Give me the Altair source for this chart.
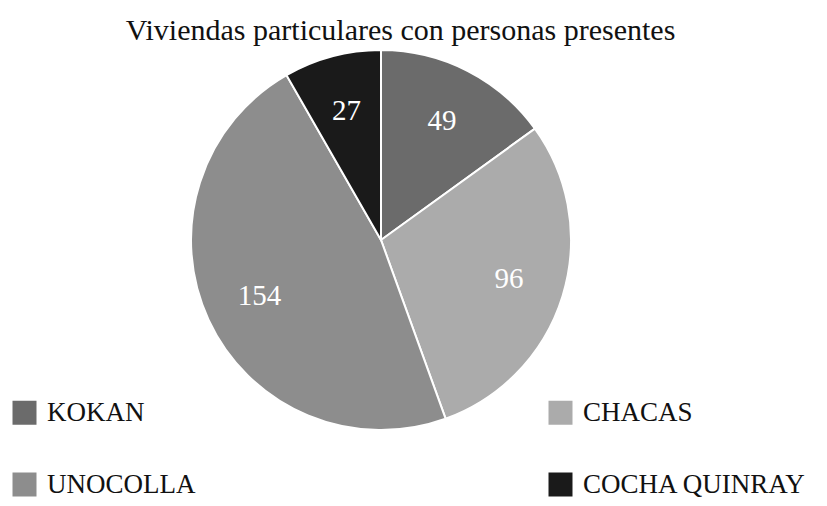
import altair as alt
import pandas as pd

categories = ["KOKAN", "CHACAS", "UNOCOLLA", "COCHA QUINRAY"]
values = [49, 96, 154, 27]
colors = ["#6b6b6b", "#ababab", "#8d8d8d", "#1a1a1a"]
legend_order = ["KOKAN", "UNOCOLLA", "CHACAS", "COCHA QUINRAY"]

df = pd.DataFrame({"cat": categories, "val": values, "order": list(range(len(categories)))})

base = alt.Chart(df).encode(
    theta=alt.Theta("val:Q", stack=True),
    order=alt.Order("order:Q"),
)

arc = base.mark_arc(radius=190, stroke="white", strokeWidth=2).encode(
    x=alt.value(373), y=alt.value(232),
    color=alt.Color(
        "cat:N",
        scale=alt.Scale(domain=categories, range=colors),
        sort=categories,
        legend=alt.Legend(
            title=None, orient="none", legendX=3, legendY=391,
            columns=2, columnPadding=351, rowPadding=44,
            values=legend_order,
            symbolType="square", symbolSize=576, symbolStrokeWidth=0,
            labelFont="Liberation Serif", labelFontSize=27, labelColor="#111",
            labelOffset=9, labelLimit=500,
        ),
    ),
)

text = base.mark_text(radius=134, font="Liberation Serif", fontSize=29, color="white").encode(
    x=alt.value(373), y=alt.value(232),
    text="val:Q",
)

chart = (arc + text).properties(
    width=811, height=490,
    padding=0,
    autosize=alt.AutoSizeParams(type="none"),
    title=alt.TitleParams(
        "Viviendas particulares con personas  presentes",
        font="Liberation Serif", fontSize=30, fontWeight="normal", color="#111",
        anchor="middle", dx=-13, offset=-38,
    ),
).configure_view(stroke=None)

chart.save("out.html", embed_options={"renderer": "svg", "actions": False})
